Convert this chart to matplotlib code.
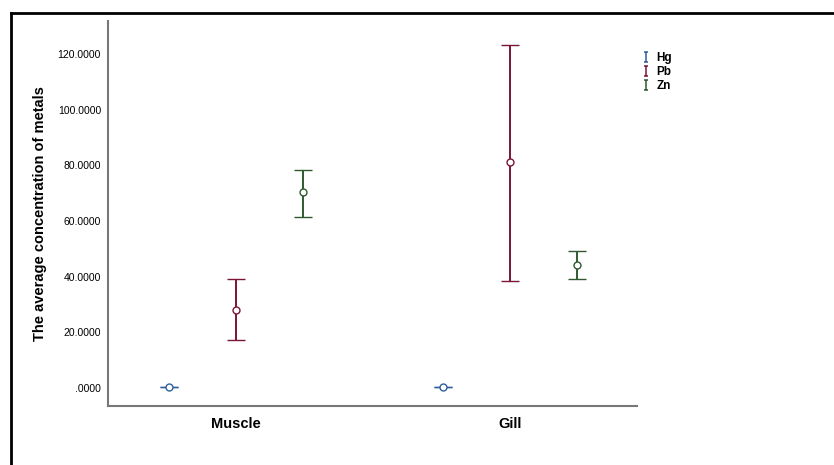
import numpy as np
import matplotlib.pyplot as plt
from matplotlib.lines import Line2D
from matplotlib.path import Path
from matplotlib.ticker import FuncFormatter

plt.rcParams['font.family'] = ['Liberation Sans', 'DejaVu Sans']

tissues = ["Muscle", "Gill"]
metals = ["Hg", "Pb", "Zn"]
colors = ["#2f5f9c", "#7a1634", "#2f5a30"]
# mean, lower bound, upper bound per metal (Muscle, Gill)
means = {"Hg": [0.3, 0.3], "Pb": [28.0, 81.2], "Zn": [70.4, 44.2]}
lower = {"Hg": [0.25, 0.25], "Pb": [17.2, 38.4], "Zn": [61.4, 39.2]}
upper = {"Hg": [0.35, 0.35], "Pb": [39.2, 123.2], "Zn": [78.3, 49.2]}
offsets = [-0.245, 0.0, 0.245]

fig = plt.figure(figsize=(8.34, 4.65), dpi=100)
ax = fig.add_axes([0.1295, 0.1269, 0.6343, 0.8279])

x = np.arange(len(tissues))
for m, c, off in zip(metals, colors, offsets):
    mu = np.array(means[m])
    yerr = [mu - np.array(lower[m]), np.array(upper[m]) - mu]
    ax.errorbar(x + off, mu, yerr=yerr, fmt='o', color=c, mfc='white', mec=c,
                ms=5, mew=1.0, elinewidth=1.4, capsize=6.2, capthick=1.4, zorder=3)

ax.set_xlim(-0.467, 1.464)
ax.set_ylim(-6.5, 131.9)
ax.set_yticks([0, 20, 40, 60, 80, 100, 120])
ax.yaxis.set_major_formatter(FuncFormatter(lambda v, p: ".0000" if v == 0 else f"{v:.4f}"))
ax.set_xticks(x)
ax.set_xticklabels(tissues, fontsize=10.5, fontweight='bold')
ax.tick_params(axis='y', length=0, labelsize=7.5, pad=5)
ax.tick_params(axis='x', length=0, pad=8)
for s in ("top", "right"):
    ax.spines[s].set_visible(False)
for s in ("left", "bottom"):
    ax.spines[s].set_color("#777777")
    ax.spines[s].set_linewidth(1.5)
ax.set_ylabel("The average concentration of metals", fontsize=10.5, fontweight='bold', labelpad=8)

# legend with error-bar glyphs
ibar = Path([(-0.5, 1), (0.5, 1), (0, 1), (0, -1), (-0.5, -1), (0.5, -1)],
            [Path.MOVETO, Path.LINETO, Path.MOVETO, Path.LINETO, Path.MOVETO, Path.LINETO])
handles = [Line2D([], [], marker=ibar, ls='none', color=c, mec=c, ms=7, mew=1.1) for c in colors]
leg = fig.legend(handles, metals, loc='upper left', bbox_to_anchor=(0.763, 0.9),
                 frameon=False, fontsize=8.5, handlelength=0.7, handletextpad=0.5,
                 labelspacing=0.15, borderpad=0)
for t in leg.get_texts():
    t.set_fontweight('bold')

# outer frame
fig.add_artist(Line2D([11 / 834, 1], [1 - 13 / 465, 1 - 13 / 465], color='black', lw=2))
fig.add_artist(Line2D([11 / 834, 11 / 834], [0, 1 - 13 / 465], color='black', lw=2))

fig.savefig("out.png", dpi=100, facecolor="white")
